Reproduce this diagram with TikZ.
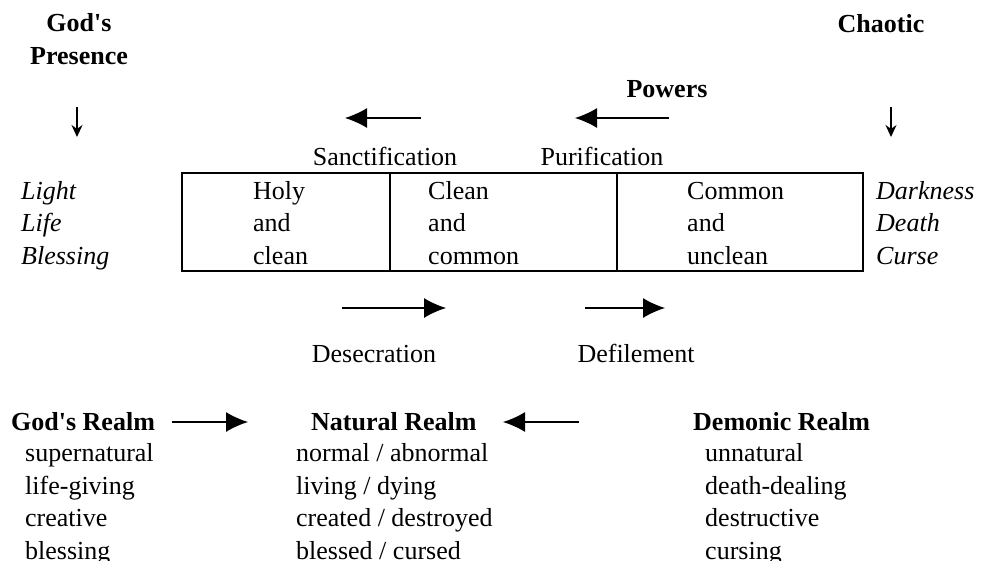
\documentclass[tikz,border=0pt]{standalone}
\usepackage{fontspec}
\setmainfont{Liberation Serif}
\usetikzlibrary{arrows.meta}

\begin{document}
\begin{tikzpicture}
    [
      x=1pt, y=-1pt,
      every node/.style={inner sep=0pt, font=\fontsize{26}{32.5}\selectfont},
      heading/.style={anchor=base, align=center, font=\fontsize{26}{32.5}\selectfont\bfseries},
      realm/.style={anchor=base west, font=\fontsize{26}{32.5}\selectfont\bfseries},
      words/.style={anchor=base west, align=left},
      cell/.style={draw, line width=1.5pt, anchor=north west, minimum height=98pt},
      powerarrow/.style={line width=1.3pt, -{Latex[length=22pt,width=20pt]}},
      downarrow/.style={line width=1.5pt, -{Stealth[length=12pt,width=11pt]}}
    ]
    \useasboundingbox (0,0) rectangle (982,560);

    \node [heading] (presence) at (79,64) {God\textquotesingle s\\Presence};
    \node [heading] (chaotic) at (881,32) {Chaotic};
    \node [heading] (powers) at (667,97) {Powers};

    \coordinate (presencetop) at (77,107);
    \coordinate (presencebot) at (77,137);
    \coordinate (chaostop) at (891,107);
    \coordinate (chaosbot) at (891,137);
    \draw [downarrow] (presencetop) -- (presencebot);
    \draw [downarrow] (chaostop) -- (chaosbot);

    \coordinate (sanctfrom) at (421,118);
    \coordinate (sanctto) at (345,118);
    \coordinate (purifrom) at (669,118);
    \coordinate (purito) at (575,118);
    \draw [powerarrow] (sanctfrom) -- (sanctto);
    \draw [powerarrow] (purifrom) -- (purito);
    \node [anchor=base] (sanctification) at (385,165) {Sanctification};
    \node [anchor=base] (purification) at (602,165) {Purification};

    \node [cell, minimum width=208pt] (holycell) at (181,172) {};
    \node [cell, minimum width=227pt] (cleancell) at (389,172) {};
    \node [cell, minimum width=246pt] (commoncell) at (616,172) {};
    \node [words] (holy) at (253,264) {Holy\\and\\clean};
    \node [words] (clean) at (428,264) {Clean\\and\\common};
    \node [words] (common) at (687,264) {Common\\and\\unclean};
    \node [words, font=\fontsize{26}{32.5}\selectfont\itshape] (light) at (21,264) {Light\\Life\\Blessing};
    \node [words, font=\fontsize{26}{32.5}\selectfont\itshape] (darkness) at (876,264) {Darkness\\Death\\Curse};

    \coordinate (descfrom) at (342,308);
    \coordinate (descto) at (446,308);
    \coordinate (defifrom) at (585,308);
    \coordinate (defito) at (665,308);
    \draw [powerarrow] (descfrom) -- (descto);
    \draw [powerarrow] (defifrom) -- (defito);
    \node [anchor=base] (desecration) at (374,362) {Desecration};
    \node [anchor=base] (defilement) at (636,362) {Defilement};

    \node [realm] (godrealm) at (11,430) {God\textquotesingle s Realm};
    \node [realm] (naturalrealm) at (311,430) {Natural Realm};
    \node [realm] (demonicrealm) at (693,430) {Demonic Realm};
    \coordinate (godfrom) at (172,422);
    \coordinate (godto) at (248,422);
    \coordinate (demonfrom) at (579,422);
    \coordinate (demonto) at (503,422);
    \draw [powerarrow] (godfrom) -- (godto);
    \draw [powerarrow] (demonfrom) -- (demonto);

    \node [words] (godlist) at (25,559) {supernatural\\life-giving\\creative\\blessing};
    \node [words] (naturallist) at (296,559) {normal / abnormal\\living / dying\\created / destroyed\\blessed / cursed};
    \node [words] (demoniclist) at (705,559) {unnatural\\death-dealing\\destructive\\cursing};
\end{tikzpicture}
\end{document}
